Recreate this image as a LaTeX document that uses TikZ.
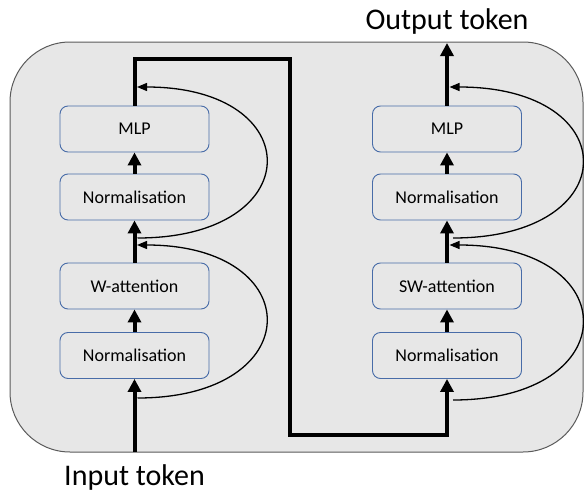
\documentclass[tikz,border=0pt]{standalone}
\usepackage{fontspec}
\setmainfont{Carlito}
\usetikzlibrary{arrows.meta}
\definecolor{bggray}{RGB}{231,231,231}
\definecolor{framegray}{RGB}{90,90,90}
\definecolor{boxblue}{RGB}{72,108,168}
\begin{document}
\begin{tikzpicture}[x=1pt,y=-1pt,
  box/.style={draw=boxblue, line width=0.9pt, rounded corners=8pt, fill=bggray,
    minimum width=149pt, minimum height=46pt, inner sep=0pt,
    font=\fontsize{18}{20}\selectfont},
  mainline/.style={line width=4pt, line join=miter},
  bigarrow/.style={-{Triangle[length=13pt,width=13pt]}},
  resline/.style={line width=1.3pt, -{Triangle[length=10pt,width=8pt]}},
  title/.style={anchor=base, font=\fontsize{30}{34}\selectfont}
]
\useasboundingbox (0,0) rectangle (584,490);
% frame
\draw[framegray, line width=1pt, fill=bggray, rounded corners=60pt] (10,42) rectangle (583,452);
% left column
\node[box] (ln1) at (134.5,355.5) {Normalisation};
\node[box] (lw)  at (134.5,286)   {W-attention};
\node[box] (ln2) at (134.5,197)   {Normalisation};
\node[box] (lm)  at (134.5,129)   {MLP};
% right column
\node[box] (rn1) at (447,355.5) {Normalisation};
\node[box] (rw)  at (447,286)   {SW-attention};
\node[box] (rn2) at (447,197)   {Normalisation};
\node[box] (rm)  at (447,129)   {MLP};
% texts
\node[title] (intext)  at (134.5,485) {Input token};
\node[title] (outtext) at (447,29.5)  {Output token};
% coordinates
\coordinate (in)  at (134.5,452);
\coordinate (tl)  at (134.5,59);
\coordinate (tr)  at (290,59);
\coordinate (br)  at (290,435);
\coordinate (bl)  at (447,435);
\coordinate (out) at (447,43);
% main path
\draw[mainline,bigarrow] (in) -- (ln1.south);
\draw[mainline,bigarrow] (ln1.north) -- (lw.south);
\draw[mainline,bigarrow] (lw.north) -- (ln2.south);
\draw[mainline,bigarrow] (ln2.north) -- (lm.south);
\draw[mainline,bigarrow] (lm.north) -- (tl) -- (tr) -- (br) -- (bl) -- (rn1.south);
\draw[mainline,bigarrow] (rn1.north) -- (rw.south);
\draw[mainline,bigarrow] (rw.north) -- (rn2.south);
\draw[mainline,bigarrow] (rn2.north) -- (rm.south);
\draw[mainline,bigarrow] (rm.north) -- (out);
% residual coordinates
\coordinate (la1) at (137.5,398);
\coordinate (lb1) at (137,245);
\coordinate (la2) at (137.5,238);
\coordinate (lb2) at (137,87);
\coordinate (ra1) at (453,400);
\coordinate (rb1) at (449.5,245);
\coordinate (ra2) at (453,238);
\coordinate (rb2) at (449.5,87);
% residual curves
\draw[resline] (la1) .. controls (309,398) and (309,245) .. (lb1);
\draw[resline] (la2) .. controls (309,238) and (309,87) .. (lb2);
\draw[resline] (ra1) .. controls (626,400) and (626,245) .. (rb1);
\draw[resline] (ra2) .. controls (626,238) and (626,87) .. (rb2);
\end{tikzpicture}
\end{document}
